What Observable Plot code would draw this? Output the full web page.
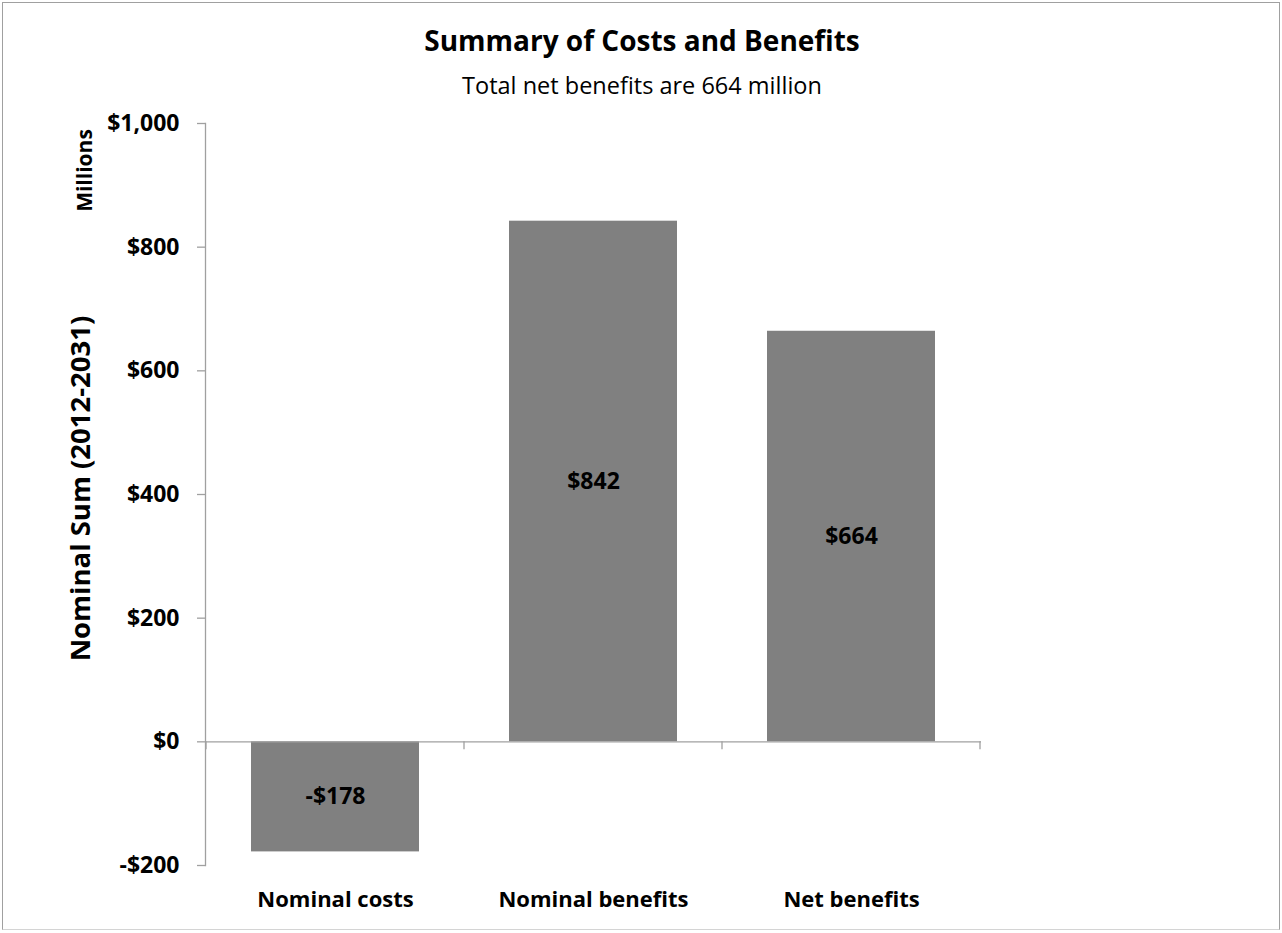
<!DOCTYPE html>
<html>
<head>
<meta charset="utf-8">
<script src="https://cdn.jsdelivr.net/npm/d3@7"></script>
<script src="https://cdn.jsdelivr.net/npm/@observablehq/plot@0.6"></script>
<style>
  html, body { margin: 0; padding: 0; background: #fff; }
  body { width: 1282px; height: 933px; position: relative; overflow: hidden; font-family: "Open Sans", Lato, sans-serif; }
  #frame { position: absolute; left: 2px; top: 2px; width: 1278px; height: 928px; border: 1px solid #a0a0a0; border-bottom-color: #d4d4d4; box-sizing: border-box; }
  #title { position: absolute; left: 0; width: 1284px; top: 24px; text-align: center; font-weight: bold; font-size: 28px; color: #000; line-height: 1.2; }
  #subtitle { position: absolute; left: 0; width: 1284px; top: 71px; text-align: center; font-size: 23.5px; color: #000; line-height: 1.2; }
  #chart { position: absolute; left: 0; top: 100px; }
</style>
</head>
<body>
<div id="frame"></div>
<div id="title">Summary of Costs and Benefits</div>
<div id="subtitle">Total net benefits are 664 million</div>
<div id="chart"></div>
<script>
const categories = ["Nominal costs", "Nominal benefits", "Net benefits"];
const values = [-178, 842, 664];
const yTicks = [-200, 0, 200, 400, 600, 800, 1000];
const yLabel = "Nominal Sum (2012-2031)";
const unitLabel = "Millions";

const data = categories.map((c, i) => ({cat: c, value: values[i]}));
const money = v => (v < 0 ? "-$" : "$") + d3.format(",")(Math.abs(v));
const axisGray = "#a0a0a0";

// tick marks on the zero line at the category boundaries, positioned by the x band scale
function boundaryTicks(index, scales, values, dimensions) {
  const x = scales.x, y = scales.y;
  const bw = x.bandwidth();
  const starts = categories.map(c => x(c));
  const gap = starts.length > 1 ? starts[1] - starts[0] - bw : 0;
  const xs = [starts[0] - gap / 2, ...starts.map(s => s + bw + gap / 2)];
  const y0 = y(0);
  const g = d3.create("svg:g");
  g.selectAll("line").data(xs).join("line")
    .attr("x1", d => d).attr("x2", d => d)
    .attr("y1", y0).attr("y2", y0 + 8)
    .attr("stroke", axisGray).attr("stroke-width", 1.3);
  return g.node();
}

const chart = Plot.plot({
  width: 1282,
  height: 830,
  marginLeft: 205,
  marginRight: 301,
  marginTop: 23,
  marginBottom: 65,
  style: {fontFamily: "'Open Sans', Lato, sans-serif", background: "transparent", overflow: "visible"},
  x: {domain: categories, paddingInner: 0.35, paddingOuter: 0.175, label: null},
  y: {domain: [-200, 1000], label: null},
  marks: [
    Plot.barY(data, {x: "cat", y: "value", fill: "#808080"}),
    Plot.frame({anchor: "left", stroke: axisGray, strokeWidth: 1.3}),
    Plot.ruleY([0], {stroke: axisGray, strokeWidth: 1.3}),
    boundaryTicks,
    Plot.axisY(yTicks, {
      tickSize: 8, tickPadding: 18, tickFormat: money,
      stroke: axisGray, strokeWidth: 1.3, fill: "#000",
      fontSize: 23, fontWeight: "bold", label: null
    }),
    Plot.axisX({
      tickSize: 0, tickPadding: 26, fill: "#000",
      fontSize: 22, fontWeight: "bold", label: null
    }),
    Plot.text(data, {
      x: "cat", y: d => d.value / 2, text: d => money(d.value),
      fill: "#000", fontSize: 23, fontWeight: "bold"
    }),
    Plot.text([yLabel], {
      frameAnchor: "left", textAnchor: "middle", text: d => d, rotate: -90,
      dx: -124, dy: -6, fill: "#000", fontSize: 27.5, fontWeight: "bold"
    }),
    Plot.text([unitLabel], {
      frameAnchor: "top-left", textAnchor: "middle", text: d => d, rotate: -90,
      dx: -128, dy: 47, fill: "#000", fontSize: 21, fontWeight: "bold"
    })
  ]
});
document.getElementById("chart").appendChild(chart);
</script>
</body>
</html>
